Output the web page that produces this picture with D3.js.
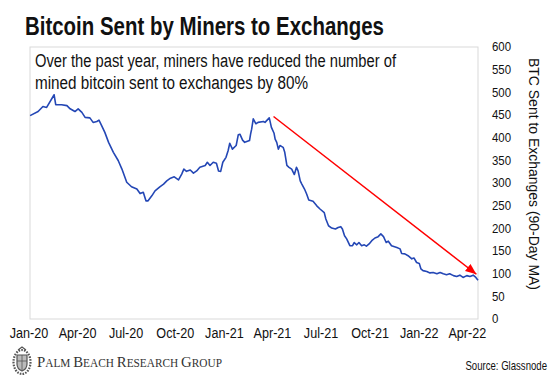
<!DOCTYPE html>
<html><head><meta charset="utf-8">
<script src="https://cdn.jsdelivr.net/npm/d3@7"></script>
<style>
html,body{margin:0;padding:0;background:#fff;}
svg{display:block;font-family:"Liberation Sans",Arial,sans-serif;}
</style>
</head><body>
<svg id="chart" width="560" height="390"></svg>
<script>
// ---------------- data ----------------
const titleText = "Bitcoin Sent by Miners to Exchanges";
const noteLines = ["Over the past year, miners have reduced the number of",
                   "mined bitcoin sent to exchanges by 80%"];
const yAxisTitle = "BTC Sent to Exchanges (90-Day MA)";
const sourceText = "Source: Glassnode";

const dates = [
 "2020-01-04","2020-01-19","2020-01-28","2020-02-04","2020-02-18","2020-02-21","2020-03-03","2020-03-13","2020-03-19","2020-03-28",
 "2020-04-03","2020-04-10","2020-04-16","2020-04-25","2020-05-01","2020-05-08","2020-05-12","2020-05-17","2020-05-23","2020-05-30",
 "2020-06-08","2020-06-17","2020-06-24","2020-07-03","2020-07-12","2020-07-22","2020-07-28","2020-08-03","2020-08-08","2020-08-12",
 "2020-08-19","2020-08-25","2020-09-03","2020-09-10","2020-09-16","2020-09-23","2020-09-30","2020-10-08","2020-10-14","2020-10-18",
 "2020-10-23","2020-10-30","2020-11-05","2020-11-11","2020-11-17","2020-11-27","2020-12-01","2020-12-06","2020-12-12","2020-12-18",
 "2020-12-22","2020-12-26","2020-12-30","2021-01-05","2021-01-09","2021-01-12","2021-01-17","2021-01-24","2021-01-28","2021-01-31",
 "2021-02-05","2021-02-09","2021-02-18","2021-02-20","2021-02-22","2021-02-25","2021-03-02","2021-03-06","2021-03-16","2021-03-19",
 "2021-03-27","2021-03-28","2021-03-31","2021-04-05","2021-04-07","2021-04-10","2021-04-13","2021-04-16","2021-04-22","2021-04-25",
 "2021-04-29","2021-05-03","2021-05-08","2021-05-13","2021-05-17","2021-05-20","2021-05-24","2021-05-27","2021-06-01","2021-06-05",
 "2021-06-09","2021-06-17","2021-06-24","2021-06-30","2021-07-08","2021-07-11","2021-07-16","2021-07-22","2021-07-29","2021-08-03",
 "2021-08-08","2021-08-11","2021-08-15","2021-08-19","2021-08-25","2021-08-30","2021-09-02","2021-09-07","2021-09-11","2021-09-16",
 "2021-09-21","2021-09-25","2021-09-30","2021-10-05","2021-10-11","2021-10-17","2021-10-22","2021-10-27","2021-11-01","2021-11-05",
 "2021-11-11","2021-11-21","2021-11-27","2021-11-30","2021-12-06","2021-12-12","2021-12-19","2021-12-23","2021-12-28","2022-01-02",
 "2022-01-05","2022-01-09","2022-01-16","2022-01-22","2022-01-28","2022-02-04","2022-02-10","2022-02-16","2022-02-22","2022-02-28",
 "2022-03-07","2022-03-13","2022-03-19","2022-03-25","2022-04-01","2022-04-07","2022-04-13","2022-04-18","2022-04-22"
];
const values = [
 448,457,468,466,494,472,472,470,463,457,
 463,455,444,443,433,435,438,426,411,389,
 367,349,330,301,291,286,276,279,260,260,
 271,282,291,297,304,310,313,306,319,330,
 325,328,321,326,334,338,345,338,345,343,
 326,325,345,356,371,387,374,382,406,407,
 394,389,393,407,418,441,430,433,435,433,
 443,438,422,409,396,389,374,382,378,367,
 338,334,330,318,334,326,304,297,286,275,
 262,259,249,242,234,220,205,200,198,201,
 203,198,183,176,161,161,168,163,168,161,
 163,160,165,172,178,181,187,181,168,171,
 161,157,154,144,143,139,132,134,124,122,
 110,106,104,101,102,99,102,99,97,99,
 95,93,96,91,95,93,96,91,85
];
const tickDates  = ["2020-01-01","2020-04-01","2020-07-01","2020-10-01","2021-01-01","2021-04-01","2021-07-01","2021-10-01","2022-01-01","2022-04-01"];
const tickLabels = ["Jan-20","Apr-20","Jul-20","Oct-20","Jan-21","Apr-21","Jul-21","Oct-21","Jan-22","Apr-22"];
const yTicks = [0,50,100,150,200,250,300,350,400,450,500,550,600];
const arrowStart = {date:"2021-04-04", value:446};
const arrowEnd   = {date:"2022-04-19", value:98};

// ---------------- drawing ----------------
const parse = d3.utcParse("%Y-%m-%d");
const series = dates.map((d,i)=>({date:parse(d), value:values[i]}));
const svg = d3.select("#chart");

const plot = {left:30, right:478, top:47, bottom:319};
const x = d3.scaleUtc().domain([parse("2020-01-01"), parse("2022-04-22")]).range([28.5, 478]);
const y = d3.scaleLinear().domain([0,600]).range([318.7, 46.7]);

function condense(sel, f){
  sel.each(function(){
    const w = this.getComputedTextLength();
    d3.select(this).attr("textLength", w*f).attr("lengthAdjust","spacingAndGlyphs");
  });
}
function fitTo(sel, len){
  sel.attr("textLength", len).attr("lengthAdjust","spacingAndGlyphs");
}

svg.append("rect").attr("width",560).attr("height",390).attr("fill","#fff");

// title
svg.append("text").attr("x",25).attr("y",35)
  .attr("font-size",26).attr("font-weight","bold").attr("fill","#111")
  .text(titleText).call(fitTo, 359);

// plot border
svg.append("rect").attr("x",plot.left).attr("y",plot.top)
  .attr("width",plot.right-plot.left).attr("height",plot.bottom-plot.top)
  .attr("fill","none").attr("stroke","#d9d9d9").attr("stroke-width",1);

// annotation
const note = svg.append("g");
note.append("text").attr("x",35).attr("y",67).attr("font-size",18).attr("fill","#111")
  .text(noteLines[0]).call(fitTo, 361);
note.append("text").attr("x",35).attr("y",89).attr("font-size",18).attr("fill","#111")
  .text(noteLines[1]).call(fitTo, 273);

// y axis (right)
const yAxis = svg.append("g").attr("transform",`translate(${plot.right},0)`)
  .call(d3.axisRight(y).tickValues(yTicks).tickSize(0).tickPadding(14));
yAxis.select(".domain").remove();
yAxis.selectAll("text").attr("font-size",13).attr("fill","#111")
  .attr("font-family","Liberation Sans, Arial, sans-serif").call(condense, 0.88);

// x axis
const xAxis = svg.append("g").attr("transform",`translate(0,${plot.bottom})`)
  .call(d3.axisBottom(x).tickValues(tickDates.map(parse)).tickFormat((d,i)=>tickLabels[i]).tickSize(0).tickPadding(9));
xAxis.select(".domain").remove();
xAxis.selectAll("text").attr("font-size",14).attr("fill","#111")
  .attr("font-family","Liberation Sans, Arial, sans-serif").call(condense, 0.9);

// axis title
svg.append("text").attr("transform","translate(534,174) rotate(90)")
  .attr("text-anchor","middle").attr("dominant-baseline","central")
  .attr("font-size",15).attr("fill","#111").text(yAxisTitle).call(fitTo, 232);

// line
svg.append("path").datum(series)
  .attr("fill","none").attr("stroke","#2447b5").attr("stroke-width",1.6)
  .attr("stroke-linejoin","round")
  .attr("d", d3.line().x(d=>x(d.date)).y(d=>y(d.value)));

// arrow
svg.append("defs").append("marker").attr("id","ah")
  .attr("markerUnits","userSpaceOnUse").attr("markerWidth",12).attr("markerHeight",10)
  .attr("refX",11).attr("refY",4.5).attr("orient","auto")
  .append("path").attr("d","M0,0 L11,4.5 L0,9 Z").attr("fill","#ff0000");
svg.append("line")
  .attr("x1",x(parse(arrowStart.date))).attr("y1",y(arrowStart.value))
  .attr("x2",x(parse(arrowEnd.date))).attr("y2",y(arrowEnd.value))
  .attr("stroke","#ff0000").attr("stroke-width",1.5).attr("marker-end","url(#ah)");

// logo crest
const crest = svg.append("g").attr("transform","translate(22,362)").attr("fill","none").attr("stroke","#555");
crest.append("ellipse").attr("rx",8.5).attr("ry",12).attr("stroke-width",2.2).attr("stroke-dasharray","1.6,1.2");
crest.append("path").attr("d","M-5,-7 L5,-7 L5,2 Q5,7 0,9 Q-5,7 -5,2 Z").attr("stroke-width",1.2).attr("fill","#bbb");
crest.append("path").attr("d","M-5,-1 L5,-1 M0,-7 L0,9").attr("stroke-width",0.8);
crest.append("path").attr("d","M-4,-12 L0,-15 L4,-12").attr("stroke-width",1.2);

// logo text (small caps)
const logo = svg.append("text").attr("x",37).attr("y",367)
  .attr("font-family","Liberation Serif, Times New Roman, serif").attr("fill","#333");
[["P","ALM "],["B","EACH "],["R","ESEARCH "],["G","ROUP"]].forEach(([a,b])=>{
  logo.append("tspan").attr("font-size",15).text(a);
  logo.append("tspan").attr("font-size",11.5).text(b);
});
logo.call(fitTo, 185);

// source (condensed with a transform, right edge at x=547)
svg.append("g").attr("transform","translate(547,370) scale(0.8,1)")
  .append("text").attr("x",0).attr("y",0).attr("text-anchor","end")
  .attr("font-size",12).attr("fill","#111").text(sourceText);
</script>
</body></html>
